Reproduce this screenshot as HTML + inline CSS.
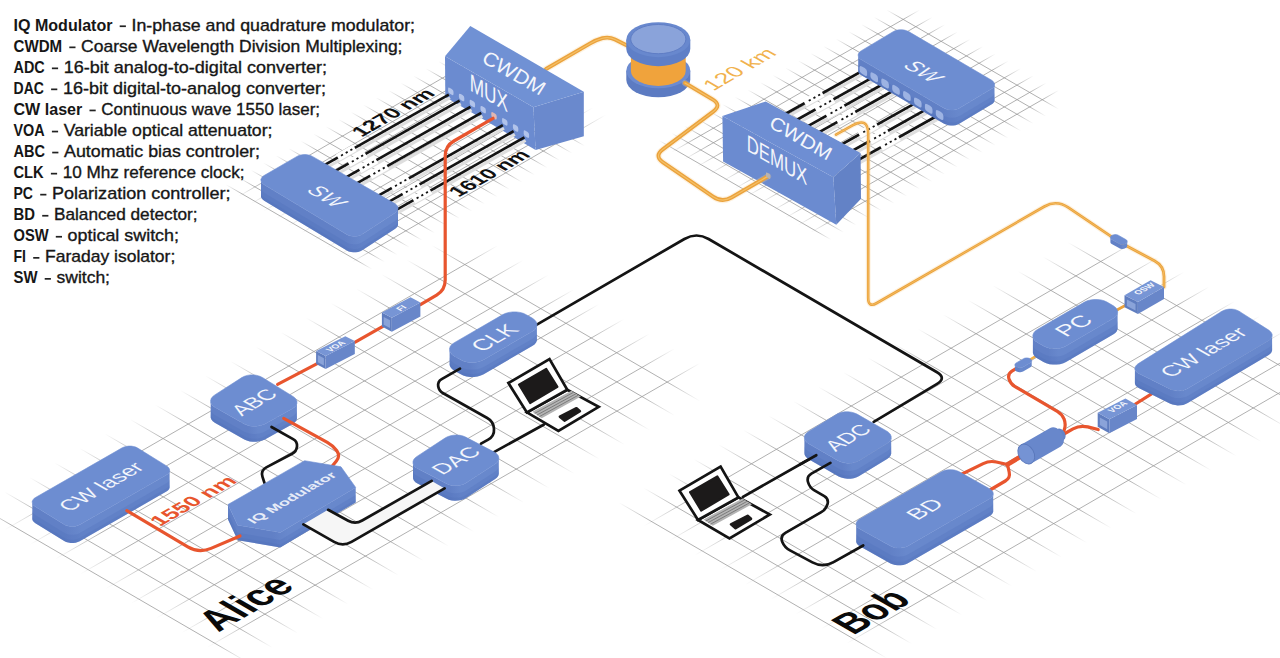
<!DOCTYPE html>
<html><head><meta charset="utf-8"><title>CV-QKD scheme</title>
<style>
html,body{margin:0;padding:0;background:#fff;}
body{width:1280px;height:658px;overflow:hidden;position:relative;font-family:"Liberation Sans",sans-serif;}
svg{position:absolute;left:0;top:0;display:block;}
svg text{font-family:"Liberation Sans",sans-serif;}
</style></head><body>
<svg width="1280" height="658" viewBox="0 0 1280 658">
<defs>
<linearGradient id="gg1" gradientUnits="userSpaceOnUse" x1="210.7" y1="649.6" x2="458.6" y2="223"><stop offset="0.0000" stop-color="#9c9c9c" stop-opacity="0"/><stop offset="0.0969" stop-color="#9c9c9c" stop-opacity="1"/><stop offset="0.9337" stop-color="#9c9c9c" stop-opacity="1"/><stop offset="1.0000" stop-color="#9c9c9c" stop-opacity="0"/></linearGradient>
<linearGradient id="gg2" gradientUnits="userSpaceOnUse" x1="231" y1="671.7" x2="96.6" y2="438.7"><stop offset="0.0000" stop-color="#9c9c9c" stop-opacity="0"/><stop offset="0.1226" stop-color="#9c9c9c" stop-opacity="1"/><stop offset="0.8774" stop-color="#9c9c9c" stop-opacity="1"/><stop offset="1.0000" stop-color="#9c9c9c" stop-opacity="0"/></linearGradient>
<linearGradient id="gg3" gradientUnits="userSpaceOnUse" x1="850.3" y1="645.7" x2="1096.8" y2="221.5"><stop offset="0.0000" stop-color="#9c9c9c" stop-opacity="0"/><stop offset="0.0969" stop-color="#9c9c9c" stop-opacity="1"/><stop offset="0.9337" stop-color="#9c9c9c" stop-opacity="1"/><stop offset="1.0000" stop-color="#9c9c9c" stop-opacity="0"/></linearGradient>
<linearGradient id="gg4" gradientUnits="userSpaceOnUse" x1="870.6" y1="667.8" x2="735.7" y2="434.8"><stop offset="0.0000" stop-color="#9c9c9c" stop-opacity="0"/><stop offset="0.1226" stop-color="#9c9c9c" stop-opacity="1"/><stop offset="0.8774" stop-color="#9c9c9c" stop-opacity="1"/><stop offset="1.0000" stop-color="#9c9c9c" stop-opacity="0"/></linearGradient>
<linearGradient id="gg5" gradientUnits="userSpaceOnUse" x1="353.9" y1="263.1" x2="481.5" y2="42.8"><stop offset="0.0000" stop-color="#969696" stop-opacity="0"/><stop offset="0.0936" stop-color="#969696" stop-opacity="1"/><stop offset="0.8522" stop-color="#969696" stop-opacity="1"/><stop offset="1.0000" stop-color="#969696" stop-opacity="0"/></linearGradient>
<linearGradient id="gg6" gradientUnits="userSpaceOnUse" x1="364" y1="274" x2="290.5" y2="147.2"><stop offset="0.0000" stop-color="#969696" stop-opacity="0"/><stop offset="0.1121" stop-color="#969696" stop-opacity="1"/><stop offset="0.8879" stop-color="#969696" stop-opacity="1"/><stop offset="1.0000" stop-color="#969696" stop-opacity="0"/></linearGradient>
<linearGradient id="gg7" gradientUnits="userSpaceOnUse" x1="812.7" y1="233.5" x2="936.2" y2="19.5"><stop offset="0.0000" stop-color="#969696" stop-opacity="0"/><stop offset="0.0969" stop-color="#969696" stop-opacity="1"/><stop offset="0.9337" stop-color="#969696" stop-opacity="1"/><stop offset="1.0000" stop-color="#969696" stop-opacity="0"/></linearGradient>
<linearGradient id="gg8" gradientUnits="userSpaceOnUse" x1="822.8" y1="244.4" x2="737.4" y2="95.5"><stop offset="0.0000" stop-color="#969696" stop-opacity="0"/><stop offset="0.0956" stop-color="#969696" stop-opacity="1"/><stop offset="0.9044" stop-color="#969696" stop-opacity="1"/><stop offset="1.0000" stop-color="#969696" stop-opacity="0"/></linearGradient>
<linearGradient id="sg9" gradientUnits="userSpaceOnUse" x1="261" y1="0" x2="398" y2="0"><stop offset="0" stop-color="#6180c6"/><stop offset="0.614" stop-color="#6180c6"/><stop offset="0.734" stop-color="#6888cc"/><stop offset="1" stop-color="#6888cc"/></linearGradient>
<linearGradient id="sg10" gradientUnits="userSpaceOnUse" x1="858.2" y1="0" x2="994.5" y2="0"><stop offset="0" stop-color="#6180c6"/><stop offset="0.618" stop-color="#6180c6"/><stop offset="0.738" stop-color="#6888cc"/><stop offset="1" stop-color="#6888cc"/></linearGradient>
<linearGradient id="sg11" gradientUnits="userSpaceOnUse" x1="32.3" y1="0" x2="169.6" y2="0"><stop offset="0" stop-color="#6180c6"/><stop offset="0.238" stop-color="#6180c6"/><stop offset="0.358" stop-color="#6888cc"/><stop offset="1" stop-color="#6888cc"/></linearGradient>
<linearGradient id="sg12" gradientUnits="userSpaceOnUse" x1="210.7" y1="0" x2="296.9" y2="0"><stop offset="0" stop-color="#6180c6"/><stop offset="0.430" stop-color="#6180c6"/><stop offset="0.550" stop-color="#6888cc"/><stop offset="1" stop-color="#6888cc"/></linearGradient>
<linearGradient id="sg13" gradientUnits="userSpaceOnUse" x1="449.6" y1="0" x2="536.9" y2="0"><stop offset="0" stop-color="#6180c6"/><stop offset="0.218" stop-color="#6180c6"/><stop offset="0.338" stop-color="#6888cc"/><stop offset="1" stop-color="#6888cc"/></linearGradient>
<linearGradient id="sg14" gradientUnits="userSpaceOnUse" x1="413" y1="0" x2="498.8" y2="0"><stop offset="0" stop-color="#6180c6"/><stop offset="0.429" stop-color="#6180c6"/><stop offset="0.549" stop-color="#6888cc"/><stop offset="1" stop-color="#6888cc"/></linearGradient>
<linearGradient id="sg15" gradientUnits="userSpaceOnUse" x1="228" y1="0" x2="355.7" y2="0"><stop offset="0" stop-color="#6180c6"/><stop offset="0.350" stop-color="#6180c6"/><stop offset="0.470" stop-color="#6888cc"/><stop offset="1" stop-color="#6888cc"/></linearGradient>
<linearGradient id="sg16" gradientUnits="userSpaceOnUse" x1="1110.4" y1="0" x2="1127.2" y2="0"><stop offset="0" stop-color="#6180c6"/><stop offset="0.614" stop-color="#6180c6"/><stop offset="0.734" stop-color="#6888cc"/><stop offset="1" stop-color="#6888cc"/></linearGradient>
<linearGradient id="sg17" gradientUnits="userSpaceOnUse" x1="1014.9" y1="0" x2="1031.7" y2="0"><stop offset="0" stop-color="#6180c6"/><stop offset="0.204" stop-color="#6180c6"/><stop offset="0.324" stop-color="#6888cc"/><stop offset="1" stop-color="#6888cc"/></linearGradient>
<linearGradient id="sg18" gradientUnits="userSpaceOnUse" x1="1032.9" y1="0" x2="1117.6" y2="0"><stop offset="0" stop-color="#6180c6"/><stop offset="0.178" stop-color="#6180c6"/><stop offset="0.298" stop-color="#6888cc"/><stop offset="1" stop-color="#6888cc"/></linearGradient>
<linearGradient id="sg19" gradientUnits="userSpaceOnUse" x1="1134.9" y1="0" x2="1272.1" y2="0"><stop offset="0" stop-color="#6180c6"/><stop offset="0.252" stop-color="#6180c6"/><stop offset="0.372" stop-color="#6888cc"/><stop offset="1" stop-color="#6888cc"/></linearGradient>
<linearGradient id="sg20" gradientUnits="userSpaceOnUse" x1="804.4" y1="0" x2="891.2" y2="0"><stop offset="0" stop-color="#6180c6"/><stop offset="0.434" stop-color="#6180c6"/><stop offset="0.554" stop-color="#6888cc"/><stop offset="1" stop-color="#6888cc"/></linearGradient>
<linearGradient id="sg21" gradientUnits="userSpaceOnUse" x1="856.2" y1="0" x2="993.2" y2="0"><stop offset="0" stop-color="#6180c6"/><stop offset="0.244" stop-color="#6180c6"/><stop offset="0.364" stop-color="#6888cc"/><stop offset="1" stop-color="#6888cc"/></linearGradient>
</defs>
<g id="grids">
<path d="M207 647.5 L699.9 363.2M181.7 632.8 L674.6 348.6M156.4 618.1 L649.3 333.9M131.1 603.4 L624 319.1M105.8 588.7 L598.7 304.4M80.5 574 L573.4 289.8M55.2 559.2 L548.1 275.1M29.9 544.6 L522.8 260.4M4.6 529.9 L497.5 245.7" stroke="url(#gg1)" stroke-width="0.8" fill="none"/><path d="M247.4 662.2 L-20.8 506.4M272.5 647.7 L4.4 491.9M297.7 633.2 L29.5 477.4M322.8 618.7 L54.7 462.9M348 604.2 L79.8 448.4M373.1 589.7 L105 433.9M398.3 575.2 L130.1 419.4M423.4 560.7 L155.3 404.9M448.6 546.2 L180.4 390.4M473.7 531.7 L205.6 375.9M498.9 517.2 L230.7 361.4M524 502.7 L255.9 346.9M549.2 488.2 L281 332.4M574.3 473.7 L306.2 317.9M599.5 459.2 L331.3 303.4M624.6 444.7 L356.5 288.9M649.8 430.2 L381.6 274.4M674.9 415.7 L406.8 259.9M700.1 401.2 L431.9 245.4" stroke="url(#gg2)" stroke-width="0.8" fill="none"/>
<path d="M846.6 643.5 L1335.6 360.3M821.3 628.8 L1310.3 345.6M796 614.1 L1285 330.9M770.7 599.4 L1259.7 316.2M745.4 584.7 L1234.4 301.5M720.1 570 L1209.1 286.8M694.8 555.3 L1183.8 272.1M669.5 540.6 L1158.5 257.4M644.2 525.9 L1133.2 242.7" stroke="url(#gg3)" stroke-width="0.8" fill="none"/><path d="M887 658.3 L618.8 502.5M911.9 643.9 L643.8 488M936.9 629.4 L668.7 473.6M961.8 615 L693.7 459.1M986.8 600.5 L718.6 444.7M1011.7 586.1 L743.6 430.2M1036.7 571.6 L768.5 415.8M1061.6 557.2 L793.5 401.3M1086.6 542.7 L818.4 386.9M1111.5 528.3 L843.4 372.4M1136.5 513.8 L868.3 358M1161.4 499.4 L893.3 343.5M1186.4 484.9 L918.2 329.1M1211.3 470.5 L943.2 314.6M1236.3 456 L968.1 300.2M1261.2 441.6 L993.1 285.7M1286.2 427.1 L1018 271.3M1311.1 412.7 L1043 256.8M1336.1 398.2 L1067.9 242.4" stroke="url(#gg4)" stroke-width="0.8" fill="none"/>
<path d="M352.1 262 L605.8 114.8M339.4 254.7 L593.2 107.5M326.9 247.4 L580.6 100.2M314.2 240.1 L568 92.9M301.7 232.8 L555.4 85.6M289.1 225.5 L542.8 78.3M276.5 218.2 L530.2 71M263.9 210.9 L517.6 63.7M251.2 203.6 L505 56.4M238.7 196.3 L492.4 49.1" stroke="url(#gg5)" stroke-width="0.75" fill="none"/><path d="M372.2 269.3 L226 184.6M384.7 262 L238.5 177.4M397.2 254.8 L251 170.1M409.7 247.5 L263.5 162.9M422.2 240.3 L276 155.6M434.7 233 L288.5 148.4M447.2 225.8 L301 141.1M459.7 218.5 L313.5 133.9M472.2 211.3 L326 126.6M484.7 204 L338.5 119.4M497.2 196.8 L351 112.1M509.7 189.5 L363.5 104.9M522.2 182.3 L376 97.6M534.7 175 L388.5 90.4M547.2 167.8 L401 83.1M559.7 160.5 L413.5 75.9M572.2 153.3 L426 68.6M584.7 146 L438.5 61.4" stroke="url(#gg6)" stroke-width="0.75" fill="none"/>
<path d="M810.8 232.4 L1058.7 90.3M798.2 225.1 L1046.1 83M785.5 217.8 L1033.4 75.7M772.9 210.5 L1020.8 68.4M760.2 203.2 L1008.1 61.1M747.6 195.9 L995.5 53.8M734.9 188.6 L982.8 46.5M722.3 181.3 L970.2 39.2M709.6 174 L957.5 31.9M697 166.7 L944.9 24.6M684.3 159.4 L932.2 17.3M671.7 152.1 L919.6 10" stroke="url(#gg7)" stroke-width="0.75" fill="none"/><path d="M831 239.7 L659 140.4M843.7 232.4 L671.7 133.2M856.3 225.2 L684.3 125.9M869 217.9 L697 118.7M881.6 210.7 L709.6 111.4M894.3 203.4 L722.3 104.2M906.9 196.2 L734.9 96.9M919.6 188.9 L747.6 89.7M932.2 181.7 L760.2 82.4M944.9 174.4 L772.9 75.2M957.5 167.2 L785.5 67.9M970.2 159.9 L798.2 60.7M982.8 152.7 L810.8 53.4M995.5 145.4 L823.5 46.2M1008.1 138.2 L836.1 38.9M1020.8 130.9 L848.8 31.7M1033.4 123.7 L861.4 24.4M1046.1 116.4 L874.1 17.2M1058.7 109.2 L886.7 9.9" stroke="url(#gg8)" stroke-width="0.75" fill="none"/>
</g>
<g id="top">
<path d="M546 69 L590.2 43.4 Q596 40 602.5 38.2 L602.5 38.2 Q609 36.5 615 39.5 L628 46" fill="none" stroke="#f7cf8f" stroke-width="6.3" stroke-linecap="round" stroke-linejoin="round" opacity="0.28"/><path d="M546 69 L590.2 43.4 Q596 40 602.5 38.2 L602.5 38.2 Q609 36.5 615 39.5 L628 46" fill="none" stroke="#eba23c" stroke-width="3.9" stroke-linecap="round" stroke-linejoin="round" /><path d="M546 69 L590.2 43.4 Q596 40 602.5 38.2 L602.5 38.2 Q609 36.5 615 39.5 L628 46" fill="none" stroke="#f4c067" stroke-width="1.17" stroke-linecap="round" stroke-linejoin="round" />
<path d="M533.4 107.3 L583.8 91.8 L583.8 136.3 L535.6 150Z" fill="#6a89cd"/>
<path d="M445 56.2 L445.3 97 L535.6 150 L533.4 107.3Z" fill="#6b8bd0"/>
<path d="M445 56.2 L470.3 26 L583.8 91.8 L533.4 107.3Z" fill="#7091d4"/>
<rect x="448.1" y="88.5" width="5.4" height="5.8" rx="1.8" fill="#b1c3ea" transform="skewY(30)" transform-origin="450.8 91.4"/>
<rect x="458.9" y="94.6" width="5.4" height="5.8" rx="1.8" fill="#b1c3ea" transform="skewY(30)" transform-origin="461.6 97.5"/>
<rect x="469.7" y="100.7" width="5.4" height="5.8" rx="1.8" fill="#b1c3ea" transform="skewY(30)" transform-origin="472.4 103.6"/>
<rect x="480.5" y="106.8" width="5.4" height="5.8" rx="1.8" fill="#b1c3ea" transform="skewY(30)" transform-origin="483.2 109.7"/>
<rect x="491.3" y="112.9" width="5.4" height="5.8" rx="1.8" fill="#e0b7b3" transform="skewY(30)" transform-origin="494 115.8"/>
<rect x="502.1" y="119" width="5.4" height="5.8" rx="1.8" fill="#b1c3ea" transform="skewY(30)" transform-origin="504.8 121.9"/>
<rect x="512.9" y="125.1" width="5.4" height="5.8" rx="1.8" fill="#b1c3ea" transform="skewY(30)" transform-origin="515.6 128"/>
<rect x="523.7" y="131.2" width="5.4" height="5.8" rx="1.8" fill="#b1c3ea" transform="skewY(30)" transform-origin="526.4 134.1"/>
<text transform="matrix(0.8660 0.5000 0.0000 1.0000 488.8 92.7)" font-size="24.5" fill="#f4f6fb" font-weight="normal" text-anchor="middle" y="8.6"  textLength="44" lengthAdjust="spacingAndGlyphs">MUX</text>
<text transform="matrix(0.8660 0.5000 -0.5000 0.8000 514 72.8)" font-size="21" fill="#f4f6fb" font-weight="normal" text-anchor="middle" y="7.3"  textLength="69" lengthAdjust="spacingAndGlyphs">CWDM</text>
<path d="M450 97.8 L322 170.3" stroke="#dedede" stroke-width="3" fill="none"/>
<path d="M448.8 94.6 L320.8 167.1" stroke="#141414" stroke-width="2.7" fill="none"/>
<path d="M460.8 103.9 L332.8 176.4" stroke="#dedede" stroke-width="3" fill="none"/>
<path d="M459.6 100.7 L331.6 173.2" stroke="#141414" stroke-width="2.7" fill="none"/>
<path d="M471.6 110 L343.6 182.5" stroke="#dedede" stroke-width="3" fill="none"/>
<path d="M470.4 106.8 L342.4 179.3" stroke="#141414" stroke-width="2.7" fill="none"/>
<path d="M482.4 116.1 L354.4 188.6" stroke="#dedede" stroke-width="3" fill="none"/>
<path d="M481.2 112.9 L353.2 185.4" stroke="#141414" stroke-width="2.7" fill="none"/>
<path d="M504 128.3 L376 200.8" stroke="#dedede" stroke-width="3" fill="none"/>
<path d="M502.8 125.1 L374.8 197.6" stroke="#141414" stroke-width="2.7" fill="none"/>
<path d="M514.8 134.4 L386.8 206.9" stroke="#dedede" stroke-width="3" fill="none"/>
<path d="M513.6 131.2 L385.6 203.7" stroke="#141414" stroke-width="2.7" fill="none"/>
<path d="M525.6 140.5 L397.6 213" stroke="#dedede" stroke-width="3" fill="none"/>
<path d="M524.4 137.3 L396.4 209.8" stroke="#141414" stroke-width="2.7" fill="none"/>
<path d="M354.8 147.8 L337.8 157.5" stroke="#fff" stroke-width="7.5" stroke-linecap="butt" fill="none"/>
<path d="M352.3 149.2 L339.8 156.4" stroke="#141414" stroke-width="1.8" stroke-dasharray="2.2 3.2" fill="none"/>
<path d="M365.6 153.9 L348.6 163.6" stroke="#fff" stroke-width="7.5" stroke-linecap="butt" fill="none"/>
<path d="M363.1 155.3 L350.6 162.5" stroke="#141414" stroke-width="1.8" stroke-dasharray="2.2 3.2" fill="none"/>
<path d="M376.4 160 L359.4 169.7" stroke="#fff" stroke-width="7.5" stroke-linecap="butt" fill="none"/>
<path d="M373.9 161.4 L361.4 168.6" stroke="#141414" stroke-width="1.8" stroke-dasharray="2.2 3.2" fill="none"/>
<path d="M387.2 166.1 L370.2 175.8" stroke="#fff" stroke-width="7.5" stroke-linecap="butt" fill="none"/>
<path d="M384.7 167.5 L372.2 174.7" stroke="#141414" stroke-width="1.8" stroke-dasharray="2.2 3.2" fill="none"/>
<path d="M408.8 178.3 L391.8 188" stroke="#fff" stroke-width="7.5" stroke-linecap="butt" fill="none"/>
<path d="M406.3 179.7 L393.8 186.9" stroke="#141414" stroke-width="1.8" stroke-dasharray="2.2 3.2" fill="none"/>
<path d="M419.6 184.4 L402.6 194.1" stroke="#fff" stroke-width="7.5" stroke-linecap="butt" fill="none"/>
<path d="M417.1 185.8 L404.6 193" stroke="#141414" stroke-width="1.8" stroke-dasharray="2.2 3.2" fill="none"/>
<path d="M430.4 190.5 L413.4 200.2" stroke="#fff" stroke-width="7.5" stroke-linecap="butt" fill="none"/>
<path d="M427.9 191.9 L415.4 199.1" stroke="#141414" stroke-width="1.8" stroke-dasharray="2.2 3.2" fill="none"/>
<path d="M261 179.3 L261 180.8 L261.6 182.2 L262.7 183.5 L264.2 184.7 L346.8 234.5 L348.7 235.4 L351 236 L353.3 236.3 L355.8 236.3 L358.2 235.9 L360.3 235.2 L362.2 234.2 L394.9 213 L396.4 211.7 L397.5 210.4 L398 208.9 L398 224.9 L397.5 226.4 L396.4 227.7 L394.9 229 L362.2 250.2 L360.3 251.2 L358.2 251.9 L355.8 252.3 L353.3 252.3 L351 252 L348.7 251.4 L346.8 250.5 L264.2 200.7 L262.7 199.5 L261.6 198.2 L261 196.8 L261 195.3Z" fill="url(#sg9)"/><path d="M261 187.3 L261 188.8 L261.6 190.2 L262.7 191.5 L264.2 192.7 L346.8 242.5 L348.7 243.4 L351 244 L353.3 244.3 L355.8 244.3 L358.2 243.9 L360.3 243.2 L362.2 242.2 L394.9 221 L396.4 219.7 L397.5 218.4 L398 216.9 L398 224.9 L397.5 226.4 L396.4 227.7 L394.9 229 L362.2 250.2 L360.3 251.2 L358.2 251.9 L355.8 252.3 L353.3 252.3 L351 252 L348.7 251.4 L346.8 250.5 L264.2 200.7 L262.7 199.5 L261.6 198.2 L261 196.8 L261 195.3Z" fill="#4a69b4" opacity="0.22"/><path d="M261 192.1 L261 193.6 L261.6 195 L262.7 196.3 L264.2 197.5 L346.8 247.3 L348.7 248.2 L351 248.8 L353.3 249.1 L355.8 249.1 L358.2 248.7 L360.3 248 L362.2 247 L394.9 225.8 L396.4 224.5 L397.5 223.2 L398 221.7 L398 224.9 L397.5 226.4 L396.4 227.7 L394.9 229 L362.2 250.2 L360.3 251.2 L358.2 251.9 L355.8 252.3 L353.3 252.3 L351 252 L348.7 251.4 L346.8 250.5 L264.2 200.7 L262.7 199.5 L261.6 198.2 L261 196.8 L261 195.3Z" fill="#4a69b4" opacity="0.18"/><path d="M264.2 184.7 L262.7 183.5 L261.6 182.2 L261 180.8 L261 179.3 L261.6 177.9 L262.6 176.6 L264.1 175.5 L297 156.4 L298.9 155.5 L301.1 154.9 L303.5 154.6 L305.9 154.6 L308.3 154.9 L310.5 155.5 L312.4 156.4 L394.8 203.6 L396.3 204.7 L397.4 206 L398 207.4 L398 208.9 L397.5 210.4 L396.4 211.7 L394.9 213 L362.2 234.2 L360.3 235.2 L358.2 235.9 L355.8 236.3 L353.3 236.3 L351 236 L348.7 235.4 L346.8 234.5Z" fill="#6d8dd1" stroke="#6d8dd1" stroke-width="0.6"/>
<text transform="matrix(0.8660 0.5000 -0.8660 0.5000 326.8 196.2)" font-size="21" fill="#f6f8fd" font-weight="normal" text-anchor="middle" y="7.3" font-style="italic" textLength="34" lengthAdjust="spacingAndGlyphs" stroke="#6d8dd1" stroke-width="0.12">SW</text>
<path d="M493 118.3 L453.9 141 Q445.2 146 445.2 156 L445.2 280 Q445.2 290 436.6 295.1 L420.4 304.6" fill="none" stroke="#e8552e" stroke-width="3.2" stroke-linecap="round" stroke-linejoin="round" />
<text transform="matrix(0.8660 -0.5000 0.8660 0.5000 392.9 112.5)" font-size="20" fill="#111" font-weight="bold" text-anchor="middle" y="7"  textLength="86" lengthAdjust="spacingAndGlyphs">1270 nm</text>
<text transform="matrix(0.8660 -0.5000 0.8660 0.5000 489 173.2)" font-size="20" fill="#111" font-weight="bold" text-anchor="middle" y="7"  textLength="83.7" lengthAdjust="spacingAndGlyphs">1610 nm</text>
<path d="M626.3 70.8 v9 a32 17.5 0 0 0 64 0 v-9 z" fill="#5c7bc2"/>
<ellipse cx="658.3" cy="70.8" rx="32" ry="17.5" fill="#6c8bd0" />
<path d="M630.9 45 v26 a27.4 15 0 0 0 54.8 0 v-26 z" fill="#f0a33c"/>
<path d="M626.3 39.7 v9 a32 17.5 0 0 0 64 0 v-9 z" fill="#5f7fc7"/>
<ellipse cx="658.3" cy="39.7" rx="32" ry="17.5" fill="#6888ce" />
<ellipse cx="658.3" cy="39.1" rx="27.6" ry="14.6" fill="#8aa3da" stroke="#5c7bc3" stroke-width="0.9"/>
<text transform="matrix(0.8660 -0.5000 0.8660 0.5000 739.3 69)" font-size="21" fill="#f1b24e" font-weight="normal" text-anchor="middle" y="7.3"  textLength="74" lengthAdjust="spacingAndGlyphs">120 km</text>
<path d="M864.8 73.3 L774.8 123.7" stroke="#dedede" stroke-width="3" fill="none"/>
<path d="M863.6 70.1 L773.6 120.5" stroke="#141414" stroke-width="2.7" fill="none"/>
<path d="M875.7 79.6 L785.7 130" stroke="#dedede" stroke-width="3" fill="none"/>
<path d="M874.5 76.4 L784.5 126.8" stroke="#141414" stroke-width="2.7" fill="none"/>
<path d="M886.6 85.9 L796.6 136.3" stroke="#dedede" stroke-width="3" fill="none"/>
<path d="M885.4 82.7 L795.4 133.1" stroke="#141414" stroke-width="2.7" fill="none"/>
<path d="M897.5 92.2 L807.5 142.6" stroke="#dedede" stroke-width="3" fill="none"/>
<path d="M896.3 89 L806.3 139.4" stroke="#141414" stroke-width="2.7" fill="none"/>
<path d="M919.3 104.8 L829.3 155.2" stroke="#dedede" stroke-width="3" fill="none"/>
<path d="M918.1 101.6 L828.1 152" stroke="#141414" stroke-width="2.7" fill="none"/>
<path d="M930.2 111.1 L840.2 161.5" stroke="#dedede" stroke-width="3" fill="none"/>
<path d="M929 107.9 L839 158.3" stroke="#141414" stroke-width="2.7" fill="none"/>
<path d="M941.1 117.4 L851.1 167.8" stroke="#dedede" stroke-width="3" fill="none"/>
<path d="M939.9 114.2 L849.9 164.6" stroke="#141414" stroke-width="2.7" fill="none"/>
<path d="M822.6 93.1 L804.6 103.1" stroke="#fff" stroke-width="7.5" stroke-linecap="butt" fill="none"/>
<path d="M820.1 94.5 L806.6 102" stroke="#141414" stroke-width="1.8" stroke-dasharray="2.2 3.2" fill="none"/>
<path d="M833.5 99.4 L815.5 109.4" stroke="#fff" stroke-width="7.5" stroke-linecap="butt" fill="none"/>
<path d="M831 100.8 L817.5 108.3" stroke="#141414" stroke-width="1.8" stroke-dasharray="2.2 3.2" fill="none"/>
<path d="M844.4 105.7 L826.4 115.7" stroke="#fff" stroke-width="7.5" stroke-linecap="butt" fill="none"/>
<path d="M841.9 107.1 L828.4 114.6" stroke="#141414" stroke-width="1.8" stroke-dasharray="2.2 3.2" fill="none"/>
<path d="M855.3 112 L837.3 122" stroke="#fff" stroke-width="7.5" stroke-linecap="butt" fill="none"/>
<path d="M852.8 113.4 L839.3 120.9" stroke="#141414" stroke-width="1.8" stroke-dasharray="2.2 3.2" fill="none"/>
<path d="M877.1 124.6 L859.1 134.6" stroke="#fff" stroke-width="7.5" stroke-linecap="butt" fill="none"/>
<path d="M874.6 126 L861.1 133.5" stroke="#141414" stroke-width="1.8" stroke-dasharray="2.2 3.2" fill="none"/>
<path d="M888 130.9 L870 140.9" stroke="#fff" stroke-width="7.5" stroke-linecap="butt" fill="none"/>
<path d="M885.5 132.3 L872 139.8" stroke="#141414" stroke-width="1.8" stroke-dasharray="2.2 3.2" fill="none"/>
<path d="M898.9 137.2 L880.9 147.2" stroke="#fff" stroke-width="7.5" stroke-linecap="butt" fill="none"/>
<path d="M896.4 138.6 L882.9 146.1" stroke="#141414" stroke-width="1.8" stroke-dasharray="2.2 3.2" fill="none"/>
<path d="M836 134.7 L852.5 125.4 Q868.2 116.5 868.2 134.5 L868.2 298 Q868.2 308 876.9 303 L1044.4 206.5 Q1056.5 199.5 1068.1 207.4 L1118.8 241.7" fill="none" stroke="#f7cf8f" stroke-width="5.0" stroke-linecap="round" stroke-linejoin="round" opacity="0.28"/><path d="M836 134.7 L852.5 125.4 Q868.2 116.5 868.2 134.5 L868.2 298 Q868.2 308 876.9 303 L1044.4 206.5 Q1056.5 199.5 1068.1 207.4 L1118.8 241.7" fill="none" stroke="#eba23c" stroke-width="2.6" stroke-linecap="round" stroke-linejoin="round" /><path d="M836 134.7 L852.5 125.4 Q868.2 116.5 868.2 134.5 L868.2 298 Q868.2 308 876.9 303 L1044.4 206.5 Q1056.5 199.5 1068.1 207.4 L1118.8 241.7" fill="none" stroke="#f4c067" stroke-width="0.78" stroke-linecap="round" stroke-linejoin="round" />
<path d="M858.2 54.6 L858.2 56 L858.8 57.4 L859.9 58.7 L861.4 59.8 L944.1 108.2 L946.1 109.1 L948.3 109.7 L950.7 110 L953.1 110 L955.5 109.7 L957.7 109 L959.6 108.1 L991.3 89.1 L992.9 88 L993.9 86.7 L994.5 85.2 L994.5 100.7 L993.9 102.2 L992.9 103.5 L991.3 104.6 L959.6 123.6 L957.7 124.5 L955.5 125.2 L953.1 125.5 L950.7 125.5 L948.3 125.2 L946.1 124.6 L944.1 123.7 L861.4 75.3 L859.9 74.2 L858.8 72.9 L858.2 71.5 L858.2 70.1Z" fill="url(#sg10)"/><path d="M858.2 62.3 L858.2 63.8 L858.8 65.2 L859.9 66.5 L861.4 67.6 L944.1 115.9 L946.1 116.8 L948.3 117.5 L950.7 117.8 L953.1 117.8 L955.5 117.4 L957.7 116.8 L959.6 115.9 L991.3 96.9 L992.9 95.7 L993.9 94.4 L994.5 93 L994.5 100.7 L993.9 102.2 L992.9 103.5 L991.3 104.6 L959.6 123.6 L957.7 124.5 L955.5 125.2 L953.1 125.5 L950.7 125.5 L948.3 125.2 L946.1 124.6 L944.1 123.7 L861.4 75.3 L859.9 74.2 L858.8 72.9 L858.2 71.5 L858.2 70.1Z" fill="#4a69b4" opacity="0.22"/><path d="M858.2 67 L858.2 68.4 L858.8 69.8 L859.9 71.1 L861.4 72.2 L944.1 120.6 L946.1 121.5 L948.3 122.1 L950.7 122.4 L953.1 122.4 L955.5 122.1 L957.7 121.4 L959.6 120.5 L991.3 101.5 L992.9 100.4 L993.9 99.1 L994.5 97.6 L994.5 100.7 L993.9 102.2 L992.9 103.5 L991.3 104.6 L959.6 123.6 L957.7 124.5 L955.5 125.2 L953.1 125.5 L950.7 125.5 L948.3 125.2 L946.1 124.6 L944.1 123.7 L861.4 75.3 L859.9 74.2 L858.8 72.9 L858.2 71.5 L858.2 70.1Z" fill="#4a69b4" opacity="0.18"/><path d="M861.4 59.8 L859.9 58.7 L858.8 57.4 L858.2 56 L858.2 54.6 L858.8 53.1 L859.8 51.8 L861.4 50.7 L893.1 31.7 L895 30.8 L897.2 30.1 L899.6 29.8 L902 29.8 L904.4 30.1 L906.6 30.7 L908.6 31.6 L991.3 80 L992.8 81.1 L993.9 82.4 L994.5 83.8 L994.5 85.2 L993.9 86.7 L992.9 88 L991.3 89.1 L959.6 108.1 L957.7 109 L955.5 109.7 L953.1 110 L950.7 110 L948.3 109.7 L946.1 109.1 L944.1 108.2Z" fill="#6d8dd1" stroke="#6d8dd1" stroke-width="0.6"/>
<rect x="859.5" y="66.5" width="7.6" height="7.4" rx="2.4" fill="#9db3e3" transform="skewY(30)" transform-origin="862.1 72.7"/>
<rect x="870.4" y="72.8" width="7.6" height="7.4" rx="2.4" fill="#9db3e3" transform="skewY(30)" transform-origin="873 79"/>
<rect x="881.3" y="79.1" width="7.6" height="7.4" rx="2.4" fill="#9db3e3" transform="skewY(30)" transform-origin="883.9 85.3"/>
<rect x="892.2" y="85.4" width="7.6" height="7.4" rx="2.4" fill="#9db3e3" transform="skewY(30)" transform-origin="894.8 91.6"/>
<rect x="903.1" y="91.7" width="7.6" height="7.4" rx="2.4" fill="#9db3e3" transform="skewY(30)" transform-origin="905.7 97.9"/>
<rect x="914" y="98" width="7.6" height="7.4" rx="2.4" fill="#9db3e3" transform="skewY(30)" transform-origin="916.6 104.2"/>
<rect x="924.9" y="104.3" width="7.6" height="7.4" rx="2.4" fill="#9db3e3" transform="skewY(30)" transform-origin="927.5 110.5"/>
<rect x="935.8" y="110.6" width="7.6" height="7.4" rx="2.4" fill="#9db3e3" transform="skewY(30)" transform-origin="938.4 116.8"/>
<text transform="matrix(0.8660 0.5000 -0.8660 0.5000 923.4 71.3)" font-size="21" fill="#f6f8fd" font-weight="normal" text-anchor="middle" y="7.3" font-style="italic" textLength="34" lengthAdjust="spacingAndGlyphs" stroke="#6d8dd1" stroke-width="0.12">SW</text>
<path d="M833.3 177.3 L860.6 153 L861 198.7 L836.3 224.8Z" fill="#6382c6"/>
<path d="M722.4 116 L723.1 161.5 L836.3 224.8 L833.3 177.3Z" fill="#6b8bd0"/>
<path d="M722.4 116 L765.7 101.4 L860.6 153 L833.3 177.3Z" fill="#6e8ed3"/>
<path d="M685 83 L712.5 99.4 Q722 105 713.2 111.6 L662.8 149.4 Q654 156 663 162.3 L713 196.7 Q722 203 731.5 197.5 L768 176.3" fill="none" stroke="#f7cf8f" stroke-width="6.3" stroke-linecap="round" stroke-linejoin="round" opacity="0.28"/><path d="M685 83 L712.5 99.4 Q722 105 713.2 111.6 L662.8 149.4 Q654 156 663 162.3 L713 196.7 Q722 203 731.5 197.5 L768 176.3" fill="none" stroke="#eba23c" stroke-width="3.9" stroke-linecap="round" stroke-linejoin="round" /><path d="M685 83 L712.5 99.4 Q722 105 713.2 111.6 L662.8 149.4 Q654 156 663 162.3 L713 196.7 Q722 203 731.5 197.5 L768 176.3" fill="none" stroke="#f4c067" stroke-width="1.17" stroke-linecap="round" stroke-linejoin="round" />
<rect x="766" y="173.3" width="4.2" height="4.6" rx="0.8" fill="#b9b3b0" transform="skewY(30)" transform-origin="768 175.6"/>
<text transform="matrix(0.8660 0.5000 0.0000 1.0000 777 159.7)" font-size="23.5" fill="#f4f6fb" font-weight="normal" text-anchor="middle" y="8.2"  textLength="70" lengthAdjust="spacingAndGlyphs">DEMUX</text>
<text transform="matrix(0.8660 0.5000 -0.4500 0.8400 800.9 137.9)" font-size="19.5" fill="#f4f6fb" font-weight="normal" text-anchor="middle" y="6.8"  textLength="69" lengthAdjust="spacingAndGlyphs">CWDM</text>
</g>
<g id="alice">
<path d="M277.6 384.3 L316.7 363.9" fill="none" stroke="#e8552e" stroke-width="3.2" stroke-linecap="round" stroke-linejoin="round" />
<path d="M355.2 342.1 L382.9 326.3" fill="none" stroke="#e8552e" stroke-width="3.2" stroke-linecap="round" stroke-linejoin="round" />
<path d="M536.4 324.8 L684.4 239 Q696.5 232 708.6 239 L936.6 372 Q947 378 936.7 384.2 L873.7 421.9" fill="none" stroke="#141414" stroke-width="2.7" stroke-linecap="round" stroke-linejoin="round" />
<path d="M493.5 452.4 L544 424.5" fill="none" stroke="#141414" stroke-width="2.7" stroke-linecap="round" stroke-linejoin="round" />
<path d="M526.9 412.4 L567.3 389.8 L598.7 406.9 L558.4 430.9Z" fill="#fff" stroke="#141414" stroke-width="2.7" stroke-linejoin="miter"/><path d="M532.4 411.8 L571.4 390.8 L580.9 396.6 L541.7 418.2Z" fill="#b4b4b4"/><path d="M534.7 413.4 L573.8 392.2" stroke="#6c6c6c" stroke-width="0.8"/><path d="M537 415 L576.1 393.7" stroke="#6c6c6c" stroke-width="0.8"/><path d="M539.4 416.6 L578.5 395.1" stroke="#6c6c6c" stroke-width="0.8"/><path d="M508.4 383 L549.5 359 L567.3 389.8 L526.9 412.4Z" fill="#fff" stroke="#141414" stroke-width="2.7" stroke-linejoin="miter"/><path d="M518.9 384.6 L546.2 368.8 L557.5 386.8 L530.1 403.1Z" fill="#1c1a1a" stroke="#1c1a1a" stroke-width="2" stroke-linejoin="round"/><path d="M559.9 416.7 L576.5 408.2 L579.9 411.2 L564.5 420.6Z" fill="#1c1a1a" stroke="#1c1a1a" stroke-width="2.6" stroke-linejoin="round"/>
<path d="M32.3 502.8 L32.8 504.2 L33.9 505.6 L35.4 506.7 L64.2 524.5 L66.1 525.5 L68.3 526.1 L70.7 526.5 L73.2 526.5 L75.6 526.2 L77.8 525.6 L79.7 524.8 L166.4 475.1 L167.9 474 L169 472.7 L169.6 471.3 L169.6 469.8 L169.6 486.3 L169.6 487.8 L169 489.2 L167.9 490.5 L166.4 491.6 L79.7 541.3 L77.8 542.1 L75.6 542.7 L73.2 543 L70.7 543 L68.3 542.6 L66.1 542 L64.2 541 L35.4 523.2 L33.9 522.1 L32.8 520.7 L32.3 519.3Z" fill="url(#sg11)"/><path d="M32.3 511.1 L32.8 512.5 L33.9 513.8 L35.4 515 L64.2 532.8 L66.1 533.7 L68.3 534.4 L70.7 534.7 L73.2 534.8 L75.6 534.5 L77.8 533.9 L79.7 533 L166.4 483.3 L167.9 482.2 L169 480.9 L169.6 479.5 L169.6 478 L169.6 486.3 L169.6 487.8 L169 489.2 L167.9 490.5 L166.4 491.6 L79.7 541.3 L77.8 542.1 L75.6 542.7 L73.2 543 L70.7 543 L68.3 542.6 L66.1 542 L64.2 541 L35.4 523.2 L33.9 522.1 L32.8 520.7 L32.3 519.3Z" fill="#4a69b4" opacity="0.22"/><path d="M32.3 516 L32.8 517.4 L33.9 518.8 L35.4 519.9 L64.2 537.7 L66.1 538.7 L68.3 539.3 L70.7 539.7 L73.2 539.7 L75.6 539.4 L77.8 538.8 L79.7 538 L166.4 488.3 L167.9 487.2 L169 485.9 L169.6 484.5 L169.6 483 L169.6 486.3 L169.6 487.8 L169 489.2 L167.9 490.5 L166.4 491.6 L79.7 541.3 L77.8 542.1 L75.6 542.7 L73.2 543 L70.7 543 L68.3 542.6 L66.1 542 L64.2 541 L35.4 523.2 L33.9 522.1 L32.8 520.7 L32.3 519.3Z" fill="#4a69b4" opacity="0.18"/><path d="M35.4 506.7 L33.9 505.6 L32.8 504.2 L32.3 502.8 L32.3 501.3 L32.9 499.9 L34 498.6 L35.5 497.5 L122.2 447.8 L124.1 447 L126.3 446.4 L128.7 446.1 L131.2 446.1 L133.6 446.5 L135.8 447.1 L137.7 448.1 L166.5 465.9 L168 467 L169.1 468.4 L169.6 469.8 L169.6 471.3 L169 472.7 L167.9 474 L166.4 475.1 L79.7 524.8 L77.8 525.6 L75.6 526.2 L73.2 526.5 L70.7 526.5 L68.3 526.1 L66.1 525.5 L64.2 524.5Z" fill="#6d8dd1" stroke="#6d8dd1" stroke-width="0.6"/>
<text transform="matrix(0.8660 -0.5000 0.8660 0.5000 101 486.5)" font-size="21" fill="#f6f8fd" font-weight="normal" text-anchor="middle" y="7.3"  textLength="88" lengthAdjust="spacingAndGlyphs" stroke="#6d8dd1" stroke-width="0.12">CW laser</text>
<path d="M316.1 351 L325.6 355.9 L325.6 368.9 L316.1 364Z" fill="#5f7dbf"/><path d="M317.8 355.1 L323.9 358.3 L323.9 365.4 L317.8 362.3Z" fill="#8aa3d9"/><path d="M325.6 355.9 L354.8 341.1 L354.8 354.1 L325.6 368.9Z" fill="#6886c9"/><path d="M316.1 351 L345.3 336.2 L354.8 341.1 L325.6 355.9Z" fill="#7795d5"/>
<text transform="matrix(0.8660 -0.5000 0.8660 0.5000 335.5 346.2)" font-size="8.5" fill="#f2f4fb" font-weight="bold" text-anchor="middle" y="3" >VOA</text>
<path d="M381.9 312.5 L391.8 317.8 L391.8 331.8 L381.9 326.5Z" fill="#5f7dbf"/><path d="M383.7 317 L390 320.3 L390 328 L383.7 324.7Z" fill="#8aa3d9"/><path d="M391.8 317.8 L420.4 302.6 L420.4 316.6 L391.8 331.8Z" fill="#6886c9"/><path d="M381.9 312.5 L410.5 297.3 L420.4 302.6 L391.8 317.8Z" fill="#7795d5"/>
<text transform="matrix(0.8660 -0.5000 0.8660 0.5000 401.2 308)" font-size="8.5" fill="#f2f4fb" font-weight="bold" text-anchor="middle" y="3" >FI</text>
<path d="M210.7 400.2 L210.7 402.2 L211.4 404 L212.8 405.7 L214.8 407.2 L244.3 423.9 L246.8 425.1 L249.8 425.9 L252.9 426.3 L256.2 426.3 L259.4 425.8 L262.3 425 L264.9 423.9 L292.7 408.4 L294.7 407 L296.2 405.3 L296.9 403.4 L296.9 418.9 L296.2 420.8 L294.7 422.5 L292.7 423.9 L264.9 439.4 L262.3 440.5 L259.4 441.3 L256.2 441.8 L252.9 441.8 L249.8 441.4 L246.8 440.6 L244.3 439.4 L214.8 422.7 L212.8 421.2 L211.4 419.5 L210.7 417.7 L210.7 415.7Z" fill="url(#sg12)"/><path d="M210.7 408 L210.7 409.9 L211.4 411.8 L212.8 413.5 L214.8 414.9 L244.3 431.7 L246.8 432.8 L249.8 433.6 L252.9 434 L256.2 434 L259.4 433.6 L262.3 432.8 L264.9 431.6 L292.7 416.2 L294.7 414.7 L296.2 413 L296.9 411.1 L296.9 418.9 L296.2 420.8 L294.7 422.5 L292.7 423.9 L264.9 439.4 L262.3 440.5 L259.4 441.3 L256.2 441.8 L252.9 441.8 L249.8 441.4 L246.8 440.6 L244.3 439.4 L214.8 422.7 L212.8 421.2 L211.4 419.5 L210.7 417.7 L210.7 415.7Z" fill="#4a69b4" opacity="0.22"/><path d="M210.7 412.6 L210.7 414.6 L211.4 416.4 L212.8 418.1 L214.8 419.6 L244.3 436.3 L246.8 437.5 L249.8 438.3 L252.9 438.7 L256.2 438.7 L259.4 438.2 L262.3 437.4 L264.9 436.3 L292.7 420.8 L294.7 419.4 L296.2 417.7 L296.9 415.8 L296.9 418.9 L296.2 420.8 L294.7 422.5 L292.7 423.9 L264.9 439.4 L262.3 440.5 L259.4 441.3 L256.2 441.8 L252.9 441.8 L249.8 441.4 L246.8 440.6 L244.3 439.4 L214.8 422.7 L212.8 421.2 L211.4 419.5 L210.7 417.7 L210.7 415.7Z" fill="#4a69b4" opacity="0.18"/><path d="M214.8 407.2 L212.8 405.7 L211.4 404 L210.7 402.2 L210.7 400.2 L211.4 398.3 L212.8 396.5 L214.8 394.9 L241.8 377.6 L244.4 376.3 L247.3 375.4 L250.4 374.9 L253.7 374.9 L256.9 375.4 L259.9 376.3 L262.4 377.5 L292.6 396.2 L294.7 397.7 L296.1 399.5 L296.9 401.5 L296.9 403.4 L296.2 405.3 L294.7 407 L292.7 408.4 L264.9 423.9 L262.3 425 L259.4 425.8 L256.2 426.3 L252.9 426.3 L249.8 425.9 L246.8 425.1 L244.3 423.9Z" fill="#6d8dd1" stroke="#6d8dd1" stroke-width="0.6"/>
<text transform="matrix(0.8660 -0.5000 0.8660 0.5000 253.9 402)" font-size="21" fill="#f6f8fd" font-weight="normal" text-anchor="middle" y="7.3"  textLength="43" lengthAdjust="spacingAndGlyphs" stroke="#6d8dd1" stroke-width="0.12">ABC</text>
<path d="M449.6 350.5 L450.4 352.6 L452 354.5 L454.3 356.2 L460.3 359.6 L463.2 361 L466.5 361.9 L470.2 362.4 L473.9 362.4 L477.5 361.9 L480.8 361 L483.7 359.7 L532.2 331.6 L534.5 330 L536.1 328.1 L536.9 326 L536.9 323.8 L536.9 338.3 L536.9 340.5 L536.1 342.6 L534.5 344.5 L532.2 346.1 L483.7 374.2 L480.8 375.5 L477.5 376.4 L473.9 376.9 L470.2 376.9 L466.5 376.4 L463.2 375.5 L460.3 374.1 L454.3 370.7 L452 369 L450.4 367.1 L449.6 365Z" fill="url(#sg13)"/><path d="M449.6 357.7 L450.4 359.8 L452 361.7 L454.3 363.4 L460.3 366.9 L463.2 368.2 L466.5 369.2 L470.2 369.6 L473.9 369.6 L477.5 369.2 L480.8 368.2 L483.7 366.9 L532.2 338.9 L534.5 337.2 L536.1 335.3 L536.9 333.2 L536.9 331.1 L536.9 338.3 L536.9 340.5 L536.1 342.6 L534.5 344.5 L532.2 346.1 L483.7 374.2 L480.8 375.5 L477.5 376.4 L473.9 376.9 L470.2 376.9 L466.5 376.4 L463.2 375.5 L460.3 374.1 L454.3 370.7 L452 369 L450.4 367.1 L449.6 365Z" fill="#4a69b4" opacity="0.22"/><path d="M449.6 362.1 L450.4 364.2 L452 366.1 L454.3 367.8 L460.3 371.2 L463.2 372.6 L466.5 373.5 L470.2 374 L473.9 374 L477.5 373.5 L480.8 372.6 L483.7 371.3 L532.2 343.2 L534.5 341.6 L536.1 339.7 L536.9 337.6 L536.9 335.4 L536.9 338.3 L536.9 340.5 L536.1 342.6 L534.5 344.5 L532.2 346.1 L483.7 374.2 L480.8 375.5 L477.5 376.4 L473.9 376.9 L470.2 376.9 L466.5 376.4 L463.2 375.5 L460.3 374.1 L454.3 370.7 L452 369 L450.4 367.1 L449.6 365Z" fill="#4a69b4" opacity="0.18"/><path d="M454.3 356.2 L452 354.5 L450.4 352.6 L449.6 350.5 L449.6 348.3 L450.4 346.2 L452 344.3 L454.3 342.7 L502.8 314.6 L505.7 313.3 L509 312.4 L512.6 311.9 L516.3 311.9 L520 312.4 L523.3 313.3 L526.2 314.7 L532.2 318.1 L534.5 319.8 L536.1 321.7 L536.9 323.8 L536.9 326 L536.1 328.1 L534.5 330 L532.2 331.6 L483.7 359.7 L480.8 361 L477.5 361.9 L473.9 362.4 L470.2 362.4 L466.5 361.9 L463.2 361 L460.3 359.6Z" fill="#6d8dd1" stroke="#6d8dd1" stroke-width="0.6"/>
<text transform="matrix(0.8660 -0.5000 0.8660 0.5000 494.3 337.6)" font-size="22" fill="#f6f8fd" font-weight="normal" text-anchor="middle" y="7.7"  textLength="44" lengthAdjust="spacingAndGlyphs" stroke="#6d8dd1" stroke-width="0.12">CLK</text>
<path d="M413 461.7 L413.1 463.7 L413.9 465.5 L415.4 467.2 L417.5 468.6 L446.2 483.6 L448.8 484.7 L451.8 485.4 L455 485.7 L458.3 485.5 L461.4 484.9 L464.3 484 L466.8 482.6 L494.8 464.3 L496.8 462.7 L498.2 460.9 L498.8 459 L498.8 474 L498.2 475.9 L496.8 477.7 L494.8 479.3 L466.8 497.6 L464.3 499 L461.4 499.9 L458.3 500.5 L455 500.7 L451.8 500.4 L448.8 499.7 L446.2 498.6 L417.5 483.6 L415.4 482.2 L413.9 480.5 L413.1 478.7 L413 476.7Z" fill="url(#sg14)"/><path d="M413 469.2 L413.1 471.2 L413.9 473 L415.4 474.7 L417.5 476.1 L446.2 491.1 L448.8 492.2 L451.8 492.9 L455 493.2 L458.3 493 L461.4 492.4 L464.3 491.5 L466.8 490.1 L494.8 471.8 L496.8 470.2 L498.2 468.4 L498.8 466.5 L498.8 474 L498.2 475.9 L496.8 477.7 L494.8 479.3 L466.8 497.6 L464.3 499 L461.4 499.9 L458.3 500.5 L455 500.7 L451.8 500.4 L448.8 499.7 L446.2 498.6 L417.5 483.6 L415.4 482.2 L413.9 480.5 L413.1 478.7 L413 476.7Z" fill="#4a69b4" opacity="0.22"/><path d="M413 473.7 L413.1 475.7 L413.9 477.5 L415.4 479.2 L417.5 480.6 L446.2 495.6 L448.8 496.7 L451.8 497.4 L455 497.7 L458.3 497.5 L461.4 496.9 L464.3 496 L466.8 494.6 L494.8 476.3 L496.8 474.7 L498.2 472.9 L498.8 471 L498.8 474 L498.2 475.9 L496.8 477.7 L494.8 479.3 L466.8 497.6 L464.3 499 L461.4 499.9 L458.3 500.5 L455 500.7 L451.8 500.4 L448.8 499.7 L446.2 498.6 L417.5 483.6 L415.4 482.2 L413.9 480.5 L413.1 478.7 L413 476.7Z" fill="#4a69b4" opacity="0.18"/><path d="M417.5 468.6 L415.4 467.2 L413.9 465.5 L413.1 463.7 L413 461.7 L413.6 459.8 L415 458 L417 456.4 L445 438.1 L447.5 436.7 L450.4 435.8 L453.5 435.2 L456.8 435 L460 435.3 L463 436 L465.6 437.1 L494.3 452.1 L496.4 453.5 L497.9 455.2 L498.7 457 L498.8 459 L498.2 460.9 L496.8 462.7 L494.8 464.3 L466.8 482.6 L464.3 484 L461.4 484.9 L458.3 485.5 L455 485.7 L451.8 485.4 L448.8 484.7 L446.2 483.6Z" fill="#6d8dd1" stroke="#6d8dd1" stroke-width="0.6"/>
<text transform="matrix(0.8660 -0.5000 0.8660 0.5000 455.9 460.4)" font-size="21" fill="#f6f8fd" font-weight="normal" text-anchor="middle" y="7.3"  textLength="46" lengthAdjust="spacingAndGlyphs" stroke="#6d8dd1" stroke-width="0.12">DAC</text>
<path d="M283.7 418.4 L327.3 442.4 Q333 445.5 336.8 450.8 L336.8 450.8 Q340.5 456 336.4 461 L331.5 467" fill="none" stroke="#e8552e" stroke-width="3.2" stroke-linecap="round" stroke-linejoin="round" />
<path d="M271.5 427 L293.1 439.1 Q297.5 441.5 297 446.5 L297 446.5 Q296.5 451.5 292.1 453.8 L266.3 467.4 Q260.5 470.5 262.5 476.8 L264.5 483" fill="none" stroke="#141414" stroke-width="2.7" stroke-linecap="round" stroke-linejoin="round" />
<path d="M460 368.6 L441.7 379.1 Q437.5 381.5 438.2 386.2 L438.2 386.2 Q439 391 443.2 393.3 L487.2 418 Q493.5 421.5 494 428.8 L494 428.8 Q494.5 436 488.2 439.6 L481 443.7" fill="none" stroke="#141414" stroke-width="2.7" stroke-linecap="round" stroke-linejoin="round" />
<path d="M228 504.5 L237.7 525.2 L280.3 532.5 L355.7 487.4 L355.7 502.4 L280.3 547.5 L237.7 540.2 L228 519.5Z" fill="url(#sg15)"/><path d="M228 512 L237.7 532.7 L280.3 540 L355.7 494.9 L355.7 502.4 L280.3 547.5 L237.7 540.2 L228 519.5Z" fill="#4a69b4" opacity="0.22"/><path d="M228 516.5 L237.7 537.2 L280.3 544.5 L355.7 499.4 L355.7 502.4 L280.3 547.5 L237.7 540.2 L228 519.5Z" fill="#4a69b4" opacity="0.18"/><path d="M228 504.5 L304.6 460.7 L341 466.8 L355.7 487.4 L280.3 532.5 L237.7 525.2Z" fill="#6d8dd1" stroke="#6d8dd1" stroke-width="0.6"/>
<text transform="matrix(0.8660 -0.5000 0.8660 0.5000 291.8 497.7)" font-size="12.8" fill="#e6ebf7" font-weight="bold" text-anchor="middle" y="4.5"  textLength="97" lengthAdjust="spacingAndGlyphs">IQ Modulator</text>
<path d="M126.8 510.6 L187.8 546.9 Q199 553.5 211 548.4 L240 536" fill="none" stroke="#e8552e" stroke-width="3.2" stroke-linecap="round" stroke-linejoin="round" />
<text transform="matrix(0.8660 -0.5000 0.8660 0.5000 193 500.8)" font-size="20" fill="#e8552e" font-weight="bold" text-anchor="middle" y="7"  textLength="90" lengthAdjust="spacingAndGlyphs">1550 nm</text>
<path d="M328.1 509.8 L348.2 520.7 Q355.2 524.5 362.2 520.5 L431.7 480.9 Q431.7 480.9 431.7 480.9 L444.6 488.4 Q444.6 488.4 444.6 488.4 L351.5 541.9 Q342.8 546.9 334.1 541.9 L303.4 524.3" fill="#f6f6f6"/>
<path d="M328.1 509.8 L348.2 520.7 Q355.2 524.5 362.2 520.5 L431.7 480.9" fill="none" stroke="#141414" stroke-width="2.7" stroke-linecap="round" stroke-linejoin="round" />
<path d="M303.4 524.3 L334.1 541.9 Q342.8 546.9 351.5 541.9 L444.6 488.4" fill="none" stroke="#141414" stroke-width="2.7" stroke-linecap="round" stroke-linejoin="round" />
<text transform="matrix(0.8660 -0.5000 0.8660 0.5000 257.5 610)" font-size="41" fill="#0a0a0a" font-weight="bold" text-anchor="middle" y="0"  textLength="90" lengthAdjust="spacingAndGlyphs">Alice</text>
</g>
<g id="bob">
<path d="M742.9 496.8 L815.8 455.5" fill="none" stroke="#141414" stroke-width="2.7" stroke-linecap="round" stroke-linejoin="round" />
<path d="M698 520 L738.4 497.4 L769.8 514.5 L729.5 538.5Z" fill="#fff" stroke="#141414" stroke-width="2.7" stroke-linejoin="miter"/><path d="M703.5 519.4 L742.5 498.4 L752 504.2 L712.8 525.8Z" fill="#b4b4b4"/><path d="M705.8 521 L744.9 499.8" stroke="#6c6c6c" stroke-width="0.8"/><path d="M708.1 522.6 L747.2 501.3" stroke="#6c6c6c" stroke-width="0.8"/><path d="M710.5 524.2 L749.6 502.8" stroke="#6c6c6c" stroke-width="0.8"/><path d="M679.5 490.6 L720.6 466.6 L738.4 497.4 L698 520Z" fill="#fff" stroke="#141414" stroke-width="2.7" stroke-linejoin="miter"/><path d="M690 492.2 L717.3 476.4 L728.6 494.4 L701.2 510.7Z" fill="#1c1a1a" stroke="#1c1a1a" stroke-width="2" stroke-linejoin="round"/><path d="M731 524.3 L747.6 515.8 L751 518.8 L735.6 528.2Z" fill="#1c1a1a" stroke="#1c1a1a" stroke-width="2.6" stroke-linejoin="round"/>
<path d="M1118.8 241.7 L1154.8 261 Q1164 266 1164 276.5 L1164 287" fill="none" stroke="#f7cf8f" stroke-width="5.199999999999999" stroke-linecap="round" stroke-linejoin="round" opacity="0.28"/><path d="M1118.8 241.7 L1154.8 261 Q1164 266 1164 276.5 L1164 287" fill="none" stroke="#eba23c" stroke-width="2.8" stroke-linecap="round" stroke-linejoin="round" /><path d="M1118.8 241.7 L1154.8 261 Q1164 266 1164 276.5 L1164 287" fill="none" stroke="#f4c067" stroke-width="0.84" stroke-linecap="round" stroke-linejoin="round" />
<path d="M1127 304.5 L1116 310.5" fill="none" stroke="#eba23c" stroke-width="2.6" stroke-linecap="round" stroke-linejoin="round" />
<path d="M1037.5 355 L1027 361.5" fill="none" stroke="#f3b044" stroke-width="2.4" stroke-linecap="round" stroke-linejoin="round" />
<path d="M1153.9 392.3 L1135.5 404" fill="none" stroke="#e8552e" stroke-width="3.2" stroke-linecap="round" stroke-linejoin="round" />
<path d="M1016.5 368.3 L1011.9 371.2 Q1007.5 374 1009 379 L1009 379 Q1010.5 384 1015 386.6 L1057.3 411.3 Q1062 414 1064 419 L1064.1 419.2 Q1066 424 1064.5 429 L1063 434" fill="none" stroke="#e8552e" stroke-width="3.2" stroke-linecap="round" stroke-linejoin="round" />
<path d="M1098.2 429.5 L1087.8 426.9 Q1080 425 1073 428.9 L1064 434" fill="none" stroke="#e8552e" stroke-width="3.2" stroke-linecap="round" stroke-linejoin="round" />
<path d="M1020 457 L1007.5 464.5" fill="none" stroke="#e8552e" stroke-width="4.6" stroke-linecap="round" stroke-linejoin="round" />
<path d="M1007.5 464.5 L996.3 462 Q989.5 460.5 983.2 463.6 L960 475" fill="none" stroke="#e8552e" stroke-width="3.2" stroke-linecap="round" stroke-linejoin="round" />
<path d="M1007.5 464.5 L1009.2 472.1 Q1010.5 478 1005.3 481 L990 490" fill="none" stroke="#e8552e" stroke-width="3.2" stroke-linecap="round" stroke-linejoin="round" />
<path d="M1110.4 237.2 L1110.4 237.8 L1110.6 238.4 L1111 238.9 L1111.7 239.4 L1119 243.6 L1119.8 244 L1120.7 244.2 L1121.7 244.4 L1122.8 244.4 L1123.8 244.2 L1124.7 244 L1125.6 243.6 L1125.9 243.4 L1126.6 242.9 L1127 242.4 L1127.2 241.8 L1127.2 241.2 L1127.2 245.7 L1127.2 246.3 L1127 246.9 L1126.6 247.4 L1125.9 247.9 L1125.6 248.1 L1124.7 248.5 L1123.8 248.7 L1122.8 248.9 L1121.7 248.9 L1120.7 248.7 L1119.8 248.5 L1119 248.1 L1111.7 243.9 L1111 243.4 L1110.6 242.9 L1110.4 242.3 L1110.4 241.7Z" fill="url(#sg16)"/><path d="M1111.7 239.4 L1111 238.9 L1110.6 238.4 L1110.4 237.8 L1110.4 237.2 L1110.6 236.6 L1111 236.1 L1111.7 235.6 L1112 235.4 L1112.9 235 L1113.8 234.8 L1114.8 234.6 L1115.9 234.6 L1116.9 234.8 L1117.8 235 L1118.6 235.4 L1125.9 239.6 L1126.6 240.1 L1127 240.6 L1127.2 241.2 L1127.2 241.8 L1127 242.4 L1126.6 242.9 L1125.9 243.4 L1125.6 243.6 L1124.7 244 L1123.8 244.2 L1122.8 244.4 L1121.7 244.4 L1120.7 244.2 L1119.8 244 L1119 243.6Z" fill="#6d8dd1" stroke="#6d8dd1" stroke-width="0.6"/>
<path d="M1014.9 365.1 L1015.1 365.7 L1015.5 366.2 L1016.2 366.7 L1016.5 366.9 L1017.4 367.3 L1018.3 367.5 L1019.3 367.7 L1020.4 367.7 L1021.4 367.5 L1022.3 367.3 L1023.1 366.9 L1030.4 362.7 L1031.1 362.2 L1031.5 361.7 L1031.7 361.1 L1031.7 360.5 L1031.7 365 L1031.7 365.6 L1031.5 366.2 L1031.1 366.7 L1030.4 367.2 L1023.1 371.4 L1022.3 371.8 L1021.4 372 L1020.4 372.2 L1019.3 372.2 L1018.3 372 L1017.4 371.8 L1016.5 371.4 L1016.2 371.2 L1015.5 370.7 L1015.1 370.2 L1014.9 369.6Z" fill="url(#sg17)"/><path d="M1016.2 366.7 L1015.5 366.2 L1015.1 365.7 L1014.9 365.1 L1014.9 364.5 L1015.1 363.9 L1015.5 363.4 L1016.2 362.9 L1023.5 358.7 L1024.3 358.3 L1025.2 358.1 L1026.2 357.9 L1027.3 357.9 L1028.3 358.1 L1029.2 358.3 L1030.1 358.7 L1030.4 358.9 L1031.1 359.4 L1031.5 359.9 L1031.7 360.5 L1031.7 361.1 L1031.5 361.7 L1031.1 362.2 L1030.4 362.7 L1023.1 366.9 L1022.3 367.3 L1021.4 367.5 L1020.4 367.7 L1019.3 367.7 L1018.3 367.5 L1017.4 367.3 L1016.5 366.9Z" fill="#6d8dd1" stroke="#6d8dd1" stroke-width="0.6"/>
<path d="M1124.5 295.3 L1137.9 302.1 L1137.9 314.1 L1124.5 307.3Z" fill="#5f7dbf"/><path d="M1126.9 299.5 L1135.5 303.9 L1135.5 310.5 L1126.9 306.1Z" fill="#8aa3d9"/><path d="M1137.9 302.1 L1164 287 L1164 299 L1137.9 314.1Z" fill="#6886c9"/><path d="M1124.5 295.3 L1150.6 280.2 L1164 287 L1137.9 302.1Z" fill="#7795d5"/>
<text transform="matrix(0.8660 -0.5000 0.8660 0.5000 1144.3 288.7)" font-size="8.5" fill="#f2f4fb" font-weight="bold" text-anchor="middle" y="3" >OSW</text>
<path d="M1097.7 412.7 L1109.3 419.2 L1109.3 433.2 L1097.7 426.7Z" fill="#5f7dbf"/><path d="M1099.8 417.4 L1107.2 421.5 L1107.2 429.2 L1099.8 425.1Z" fill="#8aa3d9"/><path d="M1109.3 419.2 L1137 405 L1137 419 L1109.3 433.2Z" fill="#6886c9"/><path d="M1097.7 412.7 L1125.4 398.5 L1137 405 L1109.3 419.2Z" fill="#7795d5"/>
<text transform="matrix(0.8660 -0.5000 0.8660 0.5000 1117.4 406.8)" font-size="8.5" fill="#f2f4fb" font-weight="bold" text-anchor="middle" y="3" >VOA</text>
<path d="M1032.9 335 L1032.9 337 L1033.7 339 L1035.2 340.9 L1037.5 342.5 L1043.5 346 L1046.3 347.3 L1049.5 348.2 L1053 348.6 L1056.6 348.6 L1060 348.2 L1063.3 347.3 L1066 346 L1113.1 318.6 L1115.3 317 L1116.8 315.2 L1117.6 313.1 L1117.6 329.1 L1116.8 331.2 L1115.3 333 L1113.1 334.6 L1066 362 L1063.3 363.3 L1060 364.2 L1056.6 364.6 L1053 364.6 L1049.5 364.2 L1046.3 363.3 L1043.5 362 L1037.5 358.5 L1035.2 356.9 L1033.7 355 L1032.9 353 L1032.9 351Z" fill="url(#sg18)"/><path d="M1032.9 343 L1032.9 345 L1033.7 347 L1035.2 348.9 L1037.5 350.5 L1043.5 354 L1046.3 355.3 L1049.5 356.2 L1053 356.6 L1056.6 356.6 L1060 356.2 L1063.3 355.3 L1066 354 L1113.1 326.6 L1115.3 325 L1116.8 323.2 L1117.6 321.1 L1117.6 329.1 L1116.8 331.2 L1115.3 333 L1113.1 334.6 L1066 362 L1063.3 363.3 L1060 364.2 L1056.6 364.6 L1053 364.6 L1049.5 364.2 L1046.3 363.3 L1043.5 362 L1037.5 358.5 L1035.2 356.9 L1033.7 355 L1032.9 353 L1032.9 351Z" fill="#4a69b4" opacity="0.22"/><path d="M1032.9 347.8 L1032.9 349.8 L1033.7 351.8 L1035.2 353.7 L1037.5 355.3 L1043.5 358.8 L1046.3 360.1 L1049.5 361 L1053 361.4 L1056.6 361.4 L1060 361 L1063.3 360.1 L1066 358.8 L1113.1 331.4 L1115.3 329.8 L1116.8 328 L1117.6 325.9 L1117.6 329.1 L1116.8 331.2 L1115.3 333 L1113.1 334.6 L1066 362 L1063.3 363.3 L1060 364.2 L1056.6 364.6 L1053 364.6 L1049.5 364.2 L1046.3 363.3 L1043.5 362 L1037.5 358.5 L1035.2 356.9 L1033.7 355 L1032.9 353 L1032.9 351Z" fill="#4a69b4" opacity="0.18"/><path d="M1037.5 342.5 L1035.2 340.9 L1033.7 339 L1032.9 337 L1032.9 335 L1033.7 332.9 L1035.2 331.1 L1037.4 329.5 L1084.5 302.1 L1087.2 300.8 L1090.5 299.9 L1093.9 299.5 L1097.5 299.5 L1101 299.9 L1104.2 300.8 L1107 302.1 L1113 305.6 L1115.3 307.2 L1116.8 309.1 L1117.6 311.1 L1117.6 313.1 L1116.8 315.2 L1115.3 317 L1113.1 318.6 L1066 346 L1063.3 347.3 L1060 348.2 L1056.6 348.6 L1053 348.6 L1049.5 348.2 L1046.3 347.3 L1043.5 346Z" fill="#6d8dd1" stroke="#6d8dd1" stroke-width="0.6"/>
<text transform="matrix(0.8660 -0.5000 0.8660 0.5000 1073.5 325.5)" font-size="22" fill="#f6f8fd" font-weight="normal" text-anchor="middle" y="7.7"  textLength="33" lengthAdjust="spacingAndGlyphs" stroke="#6d8dd1" stroke-width="0.12">PC</text>
<path d="M1134.9 367.9 L1135 369.5 L1135.7 371 L1136.9 372.3 L1138.7 373.5 L1170.3 389.2 L1172.5 390 L1175.1 390.6 L1177.8 390.9 L1180.5 390.8 L1183.2 390.4 L1185.6 389.6 L1187.7 388.6 L1268.7 340.4 L1270.3 339.2 L1271.5 337.7 L1272.1 336.1 L1272.1 350.6 L1271.5 352.2 L1270.3 353.7 L1268.7 354.9 L1187.7 403.1 L1185.6 404.1 L1183.2 404.9 L1180.5 405.3 L1177.8 405.4 L1175.1 405.1 L1172.5 404.5 L1170.3 403.7 L1138.7 388 L1136.9 386.8 L1135.7 385.5 L1135 384 L1134.9 382.4Z" fill="url(#sg19)"/><path d="M1134.9 375.2 L1135 376.8 L1135.7 378.2 L1136.9 379.6 L1138.7 380.7 L1170.3 396.4 L1172.5 397.3 L1175.1 397.9 L1177.8 398.1 L1180.5 398 L1183.2 397.6 L1185.6 396.9 L1187.7 395.9 L1268.7 347.7 L1270.3 346.4 L1271.5 345 L1272.1 343.4 L1272.1 350.6 L1271.5 352.2 L1270.3 353.7 L1268.7 354.9 L1187.7 403.1 L1185.6 404.1 L1183.2 404.9 L1180.5 405.3 L1177.8 405.4 L1175.1 405.1 L1172.5 404.5 L1170.3 403.7 L1138.7 388 L1136.9 386.8 L1135.7 385.5 L1135 384 L1134.9 382.4Z" fill="#4a69b4" opacity="0.22"/><path d="M1134.9 379.5 L1135 381.1 L1135.7 382.6 L1136.9 383.9 L1138.7 385.1 L1170.3 400.8 L1172.5 401.6 L1175.1 402.2 L1177.8 402.5 L1180.5 402.4 L1183.2 402 L1185.6 401.2 L1187.7 400.2 L1268.7 352 L1270.3 350.8 L1271.5 349.3 L1272.1 347.7 L1272.1 350.6 L1271.5 352.2 L1270.3 353.7 L1268.7 354.9 L1187.7 403.1 L1185.6 404.1 L1183.2 404.9 L1180.5 405.3 L1177.8 405.4 L1175.1 405.1 L1172.5 404.5 L1170.3 403.7 L1138.7 388 L1136.9 386.8 L1135.7 385.5 L1135 384 L1134.9 382.4Z" fill="#4a69b4" opacity="0.18"/><path d="M1138.7 373.5 L1136.9 372.3 L1135.7 371 L1135 369.5 L1134.9 367.9 L1135.5 366.4 L1136.7 364.9 L1138.4 363.6 L1221.9 311.3 L1224.1 310.2 L1226.5 309.5 L1229.2 309.1 L1231.9 309.1 L1234.5 309.4 L1236.9 310.2 L1239 311.2 L1268.7 330.1 L1270.3 331.4 L1271.5 332.9 L1272.1 334.5 L1272.1 336.1 L1271.5 337.7 L1270.3 339.2 L1268.7 340.4 L1187.7 388.6 L1185.6 389.6 L1183.2 390.4 L1180.5 390.8 L1177.8 390.9 L1175.1 390.6 L1172.5 390 L1170.3 389.2Z" fill="#6d8dd1" stroke="#6d8dd1" stroke-width="0.6"/>
<text transform="matrix(0.8660 -0.5000 0.8660 0.5000 1203.4 352.2)" font-size="21" fill="#f6f8fd" font-weight="normal" text-anchor="middle" y="7.3"  textLength="90" lengthAdjust="spacingAndGlyphs" stroke="#6d8dd1" stroke-width="0.12">CW laser</text>
<ellipse cx="1060.5" cy="434.5" rx="4.6" ry="6.4" fill="#6483c7" transform="rotate(-30 1060.5 434.5)"/>
<path d="M1021 444.8 L1050.2 428 A7.6 10.6 -30 0 1 1060.8 446.4 L1031.6 463.2 Z" fill="#6887cb"/>
<ellipse cx="1026.3" cy="454" rx="7.6" ry="10.6" fill="#7593d4" stroke="#5a78bb" stroke-width="0.9" transform="rotate(-30 1026.3 454)"/>
<path d="M804.4 436.7 L804.5 438.7 L805.2 440.6 L806.7 442.3 L808.7 443.8 L838.6 460.9 L841.2 462 L844.1 462.8 L847.3 463.2 L850.6 463.2 L853.8 462.7 L856.7 461.8 L859.2 460.5 L887.1 443.5 L889.1 441.9 L890.5 440.2 L891.2 438.3 L891.2 453.8 L890.5 455.7 L889.1 457.4 L887.1 459 L859.2 476 L856.7 477.3 L853.8 478.2 L850.6 478.7 L847.3 478.7 L844.1 478.3 L841.2 477.5 L838.6 476.4 L808.7 459.3 L806.7 457.8 L805.2 456.1 L804.5 454.2 L804.4 452.2Z" fill="url(#sg20)"/><path d="M804.4 444.5 L804.5 446.4 L805.2 448.3 L806.7 450 L808.7 451.5 L838.6 468.6 L841.2 469.8 L844.1 470.6 L847.3 471 L850.6 470.9 L853.8 470.4 L856.7 469.5 L859.2 468.3 L887.1 451.2 L889.1 449.7 L890.5 447.9 L891.2 446 L891.2 453.8 L890.5 455.7 L889.1 457.4 L887.1 459 L859.2 476 L856.7 477.3 L853.8 478.2 L850.6 478.7 L847.3 478.7 L844.1 478.3 L841.2 477.5 L838.6 476.4 L808.7 459.3 L806.7 457.8 L805.2 456.1 L804.5 454.2 L804.4 452.2Z" fill="#4a69b4" opacity="0.22"/><path d="M804.4 449.1 L804.5 451.1 L805.2 453 L806.7 454.7 L808.7 456.2 L838.6 473.3 L841.2 474.4 L844.1 475.2 L847.3 475.6 L850.6 475.6 L853.8 475.1 L856.7 474.2 L859.2 472.9 L887.1 455.9 L889.1 454.3 L890.5 452.6 L891.2 450.7 L891.2 453.8 L890.5 455.7 L889.1 457.4 L887.1 459 L859.2 476 L856.7 477.3 L853.8 478.2 L850.6 478.7 L847.3 478.7 L844.1 478.3 L841.2 477.5 L838.6 476.4 L808.7 459.3 L806.7 457.8 L805.2 456.1 L804.5 454.2 L804.4 452.2Z" fill="#4a69b4" opacity="0.18"/><path d="M808.7 443.8 L806.7 442.3 L805.2 440.6 L804.5 438.7 L804.4 436.7 L805.1 434.8 L806.5 433.1 L808.5 431.5 L836.4 414.5 L838.9 413.2 L841.8 412.3 L845 411.8 L848.3 411.8 L851.5 412.2 L854.4 413 L857 414.1 L886.9 431.2 L888.9 432.7 L890.4 434.4 L891.1 436.3 L891.2 438.3 L890.5 440.2 L889.1 441.9 L887.1 443.5 L859.2 460.5 L856.7 461.8 L853.8 462.7 L850.6 463.2 L847.3 463.2 L844.1 462.8 L841.2 462 L838.6 460.9Z" fill="#6d8dd1" stroke="#6d8dd1" stroke-width="0.6"/>
<text transform="matrix(0.8660 -0.5000 0.8660 0.5000 847.8 437.5)" font-size="21" fill="#f6f8fd" font-weight="normal" text-anchor="middle" y="7.3"  textLength="43" lengthAdjust="spacingAndGlyphs" stroke="#6d8dd1" stroke-width="0.12">ADC</text>
<path d="M856.2 523.2 L856.2 524.7 L856.8 526.3 L858 527.7 L859.8 528.9 L890.5 546.1 L892.6 547 L895.1 547.7 L897.8 548 L900.6 548 L903.2 547.6 L905.7 546.9 L907.9 545.9 L989.7 498.7 L991.4 497.5 L992.6 496 L993.2 494.5 L993.2 511.8 L992.6 513.3 L991.4 514.8 L989.7 516 L907.9 563.2 L905.7 564.2 L903.2 564.9 L900.6 565.3 L897.8 565.3 L895.1 565 L892.6 564.3 L890.5 563.4 L859.8 546.2 L858 545 L856.8 543.6 L856.2 542 L856.2 540.5Z" fill="url(#sg21)"/><path d="M856.2 531.8 L856.2 533.4 L856.8 534.9 L858 536.3 L859.8 537.5 L890.5 554.7 L892.6 555.7 L895.1 556.3 L897.8 556.7 L900.6 556.6 L903.2 556.3 L905.7 555.6 L907.9 554.6 L989.7 507.3 L991.4 506.1 L992.6 504.7 L993.2 503.2 L993.2 511.8 L992.6 513.3 L991.4 514.8 L989.7 516 L907.9 563.2 L905.7 564.2 L903.2 564.9 L900.6 565.3 L897.8 565.3 L895.1 565 L892.6 564.3 L890.5 563.4 L859.8 546.2 L858 545 L856.8 543.6 L856.2 542 L856.2 540.5Z" fill="#4a69b4" opacity="0.22"/><path d="M856.2 537 L856.2 538.6 L856.8 540.1 L858 541.5 L859.8 542.7 L890.5 559.9 L892.6 560.9 L895.1 561.5 L897.8 561.8 L900.6 561.8 L903.2 561.5 L905.7 560.8 L907.9 559.8 L989.7 512.5 L991.4 511.3 L992.6 509.9 L993.2 508.4 L993.2 511.8 L992.6 513.3 L991.4 514.8 L989.7 516 L907.9 563.2 L905.7 564.2 L903.2 564.9 L900.6 565.3 L897.8 565.3 L895.1 565 L892.6 564.3 L890.5 563.4 L859.8 546.2 L858 545 L856.8 543.6 L856.2 542 L856.2 540.5Z" fill="#4a69b4" opacity="0.18"/><path d="M859.8 528.9 L858 527.7 L856.8 526.3 L856.2 524.7 L856.2 523.2 L856.8 521.7 L858 520.2 L859.7 519 L941.5 471.8 L943.7 470.8 L946.2 470.1 L948.8 469.7 L951.6 469.7 L954.3 470 L956.8 470.7 L958.9 471.6 L989.6 488.8 L991.4 490 L992.6 491.4 L993.2 493 L993.2 494.5 L992.6 496 L991.4 497.5 L989.7 498.7 L907.9 545.9 L905.7 546.9 L903.2 547.6 L900.6 548 L897.8 548 L895.1 547.7 L892.6 547 L890.5 546.1Z" fill="#6d8dd1" stroke="#6d8dd1" stroke-width="0.6"/>
<text transform="matrix(0.8660 -0.5000 0.8660 0.5000 924.7 508.9)" font-size="21.5" fill="#f6f8fd" font-weight="normal" text-anchor="middle" y="7.5"  textLength="32" lengthAdjust="spacingAndGlyphs" stroke="#6d8dd1" stroke-width="0.12">BD</text>
<path d="M800 464.4 L816.3 455.2" fill="none" stroke="#141414" stroke-width="2.7" stroke-linecap="round" stroke-linejoin="round" />
<path d="M830.4 462.8 L811.4 473.7 Q806.5 476.5 808 482 L808 482 Q809.5 487.5 814.4 490.4 L824.3 496.2 Q829 499 827.5 504.2 L827.5 504.2 Q826 509.5 821.3 512.2 L785.4 532.9 Q780 536 782.2 541.8 L782.2 541.8 Q784.5 547.5 790 550.4 L812.4 562.4 Q823 568 833.5 562.1 L863.2 545.5" fill="none" stroke="#141414" stroke-width="2.7" stroke-linecap="round" stroke-linejoin="round" />
<text transform="matrix(0.8660 -0.5000 0.8660 0.5000 883 618.3)" font-size="41" fill="#0a0a0a" font-weight="bold" text-anchor="middle" y="0"  textLength="69" lengthAdjust="spacingAndGlyphs">Bob</text>
</g>
<g id="legend" fill="#161616" font-size="17">
<text x="13.5" y="30.8" font-weight="bold" textLength="99" lengthAdjust="spacingAndGlyphs">IQ Modulator</text>
<rect x="119.7" y="25.4" width="6.2" height="1.7" fill="#222"/>
<text x="131.5" y="30.8" textLength="283.5" lengthAdjust="spacingAndGlyphs" stroke="#161616" stroke-width="0.35">In-phase and quadrature modulator;</text>
<text x="13.5" y="51.9" font-weight="bold" textLength="48.6" lengthAdjust="spacingAndGlyphs">CWDM</text>
<rect x="69.3" y="46.5" width="6.2" height="1.7" fill="#222"/>
<text x="81.1" y="51.9" textLength="321.4" lengthAdjust="spacingAndGlyphs" stroke="#161616" stroke-width="0.35">Coarse Wavelength Division Multiplexing;</text>
<text x="13.5" y="72.9" font-weight="bold" textLength="31.2" lengthAdjust="spacingAndGlyphs">ADC</text>
<rect x="51.9" y="67.5" width="6.2" height="1.7" fill="#222"/>
<text x="63.7" y="72.9" textLength="263.3" lengthAdjust="spacingAndGlyphs" stroke="#161616" stroke-width="0.35">16-bit analog-to-digital converter;</text>
<text x="13.5" y="94" font-weight="bold" textLength="30.4" lengthAdjust="spacingAndGlyphs">DAC</text>
<rect x="51.1" y="88.5" width="6.2" height="1.7" fill="#222"/>
<text x="62.9" y="94" textLength="263.1" lengthAdjust="spacingAndGlyphs" stroke="#161616" stroke-width="0.35">16-bit digital-to-analog converter;</text>
<text x="13.5" y="115" font-weight="bold" textLength="68.8" lengthAdjust="spacingAndGlyphs">CW laser</text>
<rect x="89.5" y="109.6" width="6.2" height="1.7" fill="#222"/>
<text x="101.3" y="115" textLength="218.7" lengthAdjust="spacingAndGlyphs" stroke="#161616" stroke-width="0.35">Continuous wave 1550 laser;</text>
<text x="13.5" y="136.1" font-weight="bold" textLength="31.2" lengthAdjust="spacingAndGlyphs">VOA</text>
<rect x="51.9" y="130.7" width="6.2" height="1.7" fill="#222"/>
<text x="63.7" y="136.1" textLength="208.8" lengthAdjust="spacingAndGlyphs" stroke="#161616" stroke-width="0.35">Variable optical attenuator;</text>
<text x="13.5" y="157.1" font-weight="bold" textLength="31.5" lengthAdjust="spacingAndGlyphs">ABC</text>
<rect x="52.2" y="151.7" width="6.2" height="1.7" fill="#222"/>
<text x="64" y="157.1" textLength="196" lengthAdjust="spacingAndGlyphs" stroke="#161616" stroke-width="0.35">Automatic bias controler;</text>
<text x="13.5" y="178.2" font-weight="bold" textLength="30.2" lengthAdjust="spacingAndGlyphs">CLK</text>
<rect x="50.9" y="172.8" width="6.2" height="1.7" fill="#222"/>
<text x="62.7" y="178.2" textLength="181.8" lengthAdjust="spacingAndGlyphs" stroke="#161616" stroke-width="0.35">10 Mhz reference clock;</text>
<text x="13.5" y="199.2" font-weight="bold" textLength="19.5" lengthAdjust="spacingAndGlyphs">PC</text>
<rect x="40.2" y="193.8" width="6.2" height="1.7" fill="#222"/>
<text x="52" y="199.2" textLength="178.5" lengthAdjust="spacingAndGlyphs" stroke="#161616" stroke-width="0.35">Polarization controller;</text>
<text x="13.5" y="220.3" font-weight="bold" textLength="21.5" lengthAdjust="spacingAndGlyphs">BD</text>
<rect x="42.2" y="214.9" width="6.2" height="1.7" fill="#222"/>
<text x="54" y="220.3" textLength="143.5" lengthAdjust="spacingAndGlyphs" stroke="#161616" stroke-width="0.35">Balanced detector;</text>
<text x="13.5" y="241.3" font-weight="bold" textLength="35.1" lengthAdjust="spacingAndGlyphs">OSW</text>
<rect x="55.8" y="235.9" width="6.2" height="1.7" fill="#222"/>
<text x="67.6" y="241.3" textLength="111.4" lengthAdjust="spacingAndGlyphs" stroke="#161616" stroke-width="0.35">optical switch;</text>
<text x="13.5" y="262.4" font-weight="bold" textLength="12.5" lengthAdjust="spacingAndGlyphs">FI</text>
<rect x="33.2" y="257" width="6.2" height="1.7" fill="#222"/>
<text x="45" y="262.4" textLength="130.3" lengthAdjust="spacingAndGlyphs" stroke="#161616" stroke-width="0.35">Faraday isolator;</text>
<text x="13.5" y="283.4" font-weight="bold" textLength="24" lengthAdjust="spacingAndGlyphs">SW</text>
<rect x="44.7" y="278" width="6.2" height="1.7" fill="#222"/>
<text x="56.5" y="283.4" textLength="53.5" lengthAdjust="spacingAndGlyphs" stroke="#161616" stroke-width="0.35">switch;</text>
</g>
</svg>
</body></html>
